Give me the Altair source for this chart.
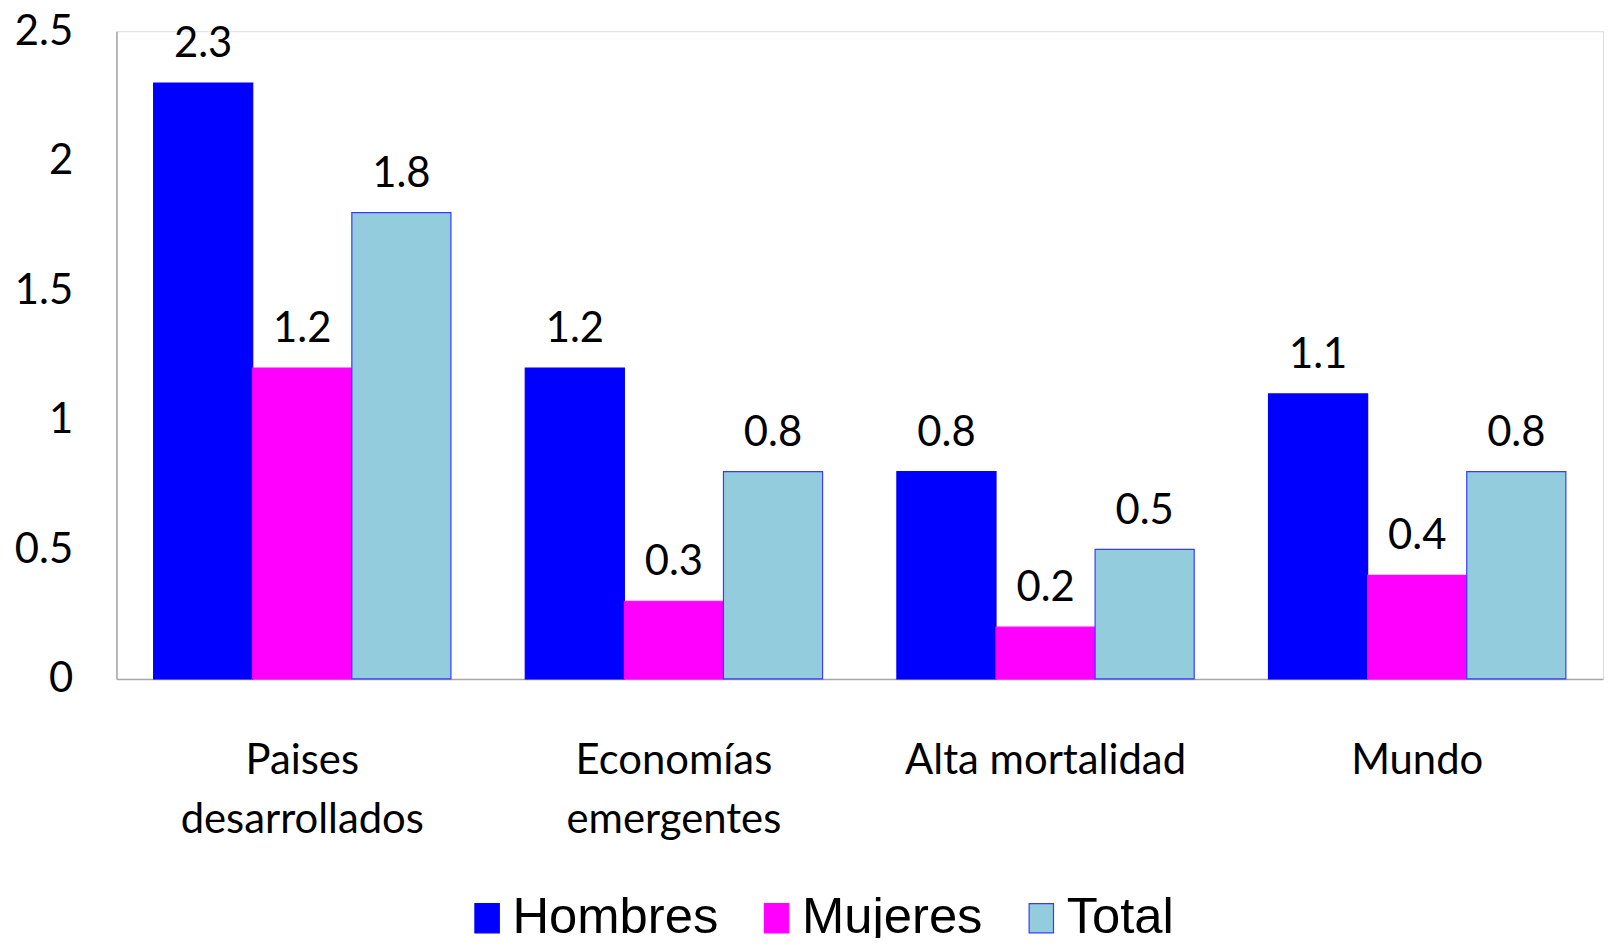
import altair as alt
import pandas as pd

regions = ["Paises desarrollados", "Economías emergentes", "Alta mortalidad", "Mundo"]
series = ["Hombres", "Mujeres", "Total"]
hombres = [2.3, 1.2, 0.8, 1.1]
mujeres = [1.2, 0.3, 0.2, 0.4]
total = [1.8, 0.8, 0.5, 0.8]
y_ticks = [0, 0.5, 1, 1.5, 2, 2.5]

fill_colors = ["#0000FF", "#FF00FF", "#93CDDD"]
stroke_colors = ["#0000FF", "#FF00FF", "#3A3AFF"]

rows = []
for name, vals in zip(series, [hombres, mujeres, total]):
    for r, v in zip(regions, vals):
        rows.append({"Region": r, "Sexo": name, "Valor": v})
df = pd.DataFrame(rows)

FONT = "Lato"
FS = 42

x_enc = alt.X(
    "Region:N",
    sort=regions,
    scale=alt.Scale(paddingInner=0.2, paddingOuter=0.1),
    axis=alt.Axis(
        title=None,
        ticks=False,
        tickSize=0,
        labelAngle=0,
        labelFont=FONT,
        labelFontSize=FS,
        labelColor="black",
        labelPadding=62,
        labelBaseline="top",
        labelLineHeight=59,
        labelLimit=1000,
        labelExpr="datum.value == 'Alta mortalidad' ? datum.value : split(datum.value, ' ')",
        domainColor="#A6A6A6",
        domainWidth=1.5,
        grid=False,
    ),
)
xoff_enc = alt.XOffset("Sexo:N", sort=series, scale=alt.Scale(paddingInner=0, paddingOuter=0))
y_enc = alt.Y(
    "Valor:Q",
    scale=alt.Scale(domain=[0, 2.5], nice=False),
    axis=alt.Axis(
        title=None,
        values=y_ticks,
        format="~g",
        ticks=False,
        tickSize=0,
        grid=False,
        labelFont=FONT,
        labelFontSize=FS,
        labelColor="black",
        labelPadding=44,
        labelLimit=1000,
        domainColor="#A6A6A6",
        domainWidth=1.5,
    ),
)

bars = alt.Chart(df).mark_bar(strokeWidth=1.2).encode(
    x=x_enc,
    xOffset=xoff_enc,
    y=y_enc,
    color=alt.Color(
        "Sexo:N",
        sort=series,
        scale=alt.Scale(domain=series, range=fill_colors),
        legend=alt.Legend(
            title=None,
            orient="none",
            direction="horizontal",
            legendX=347,
            legendY=866,
            padding=0,
            gridAlign="none",
            labelFont="Liberation Sans",
            labelFontSize=51,
            labelColor="black",
            labelOffset=0,
            labelLimit=1000,
            columnPadding=33,
            symbolType="M-1,-1.2H1V1.2H-1Z",
            symbolSize=600,
            symbolStrokeWidth=1.2,
        ),
    ),
    stroke=alt.Stroke(
        "Sexo:N",
        sort=series,
        scale=alt.Scale(domain=series, range=stroke_colors),
        legend=None,
    ),
)

labels = alt.Chart(df).mark_text(
    baseline="alphabetic",
    dy=-26,
    font=FONT,
    fontSize=FS,
    color="black",
).encode(
    x=alt.X("Region:N", sort=regions),
    xOffset=alt.XOffset("Sexo:N", sort=series),
    y=alt.Y("Valor:Q"),
    text=alt.Text("Valor:Q", format=".1f"),
)

chart = (
    alt.layer(bars, labels)
    .properties(
        width=1494,
        height=651,
        autosize=alt.AutoSizeParams(type="none"),
        padding={"left": 109, "top": 21, "right": 2, "bottom": 258},
    )
    .configure_view(stroke=None)
    .configure(background="white")
)

chart.save("out.html", embed_options={"renderer": "svg", "actions": False})
